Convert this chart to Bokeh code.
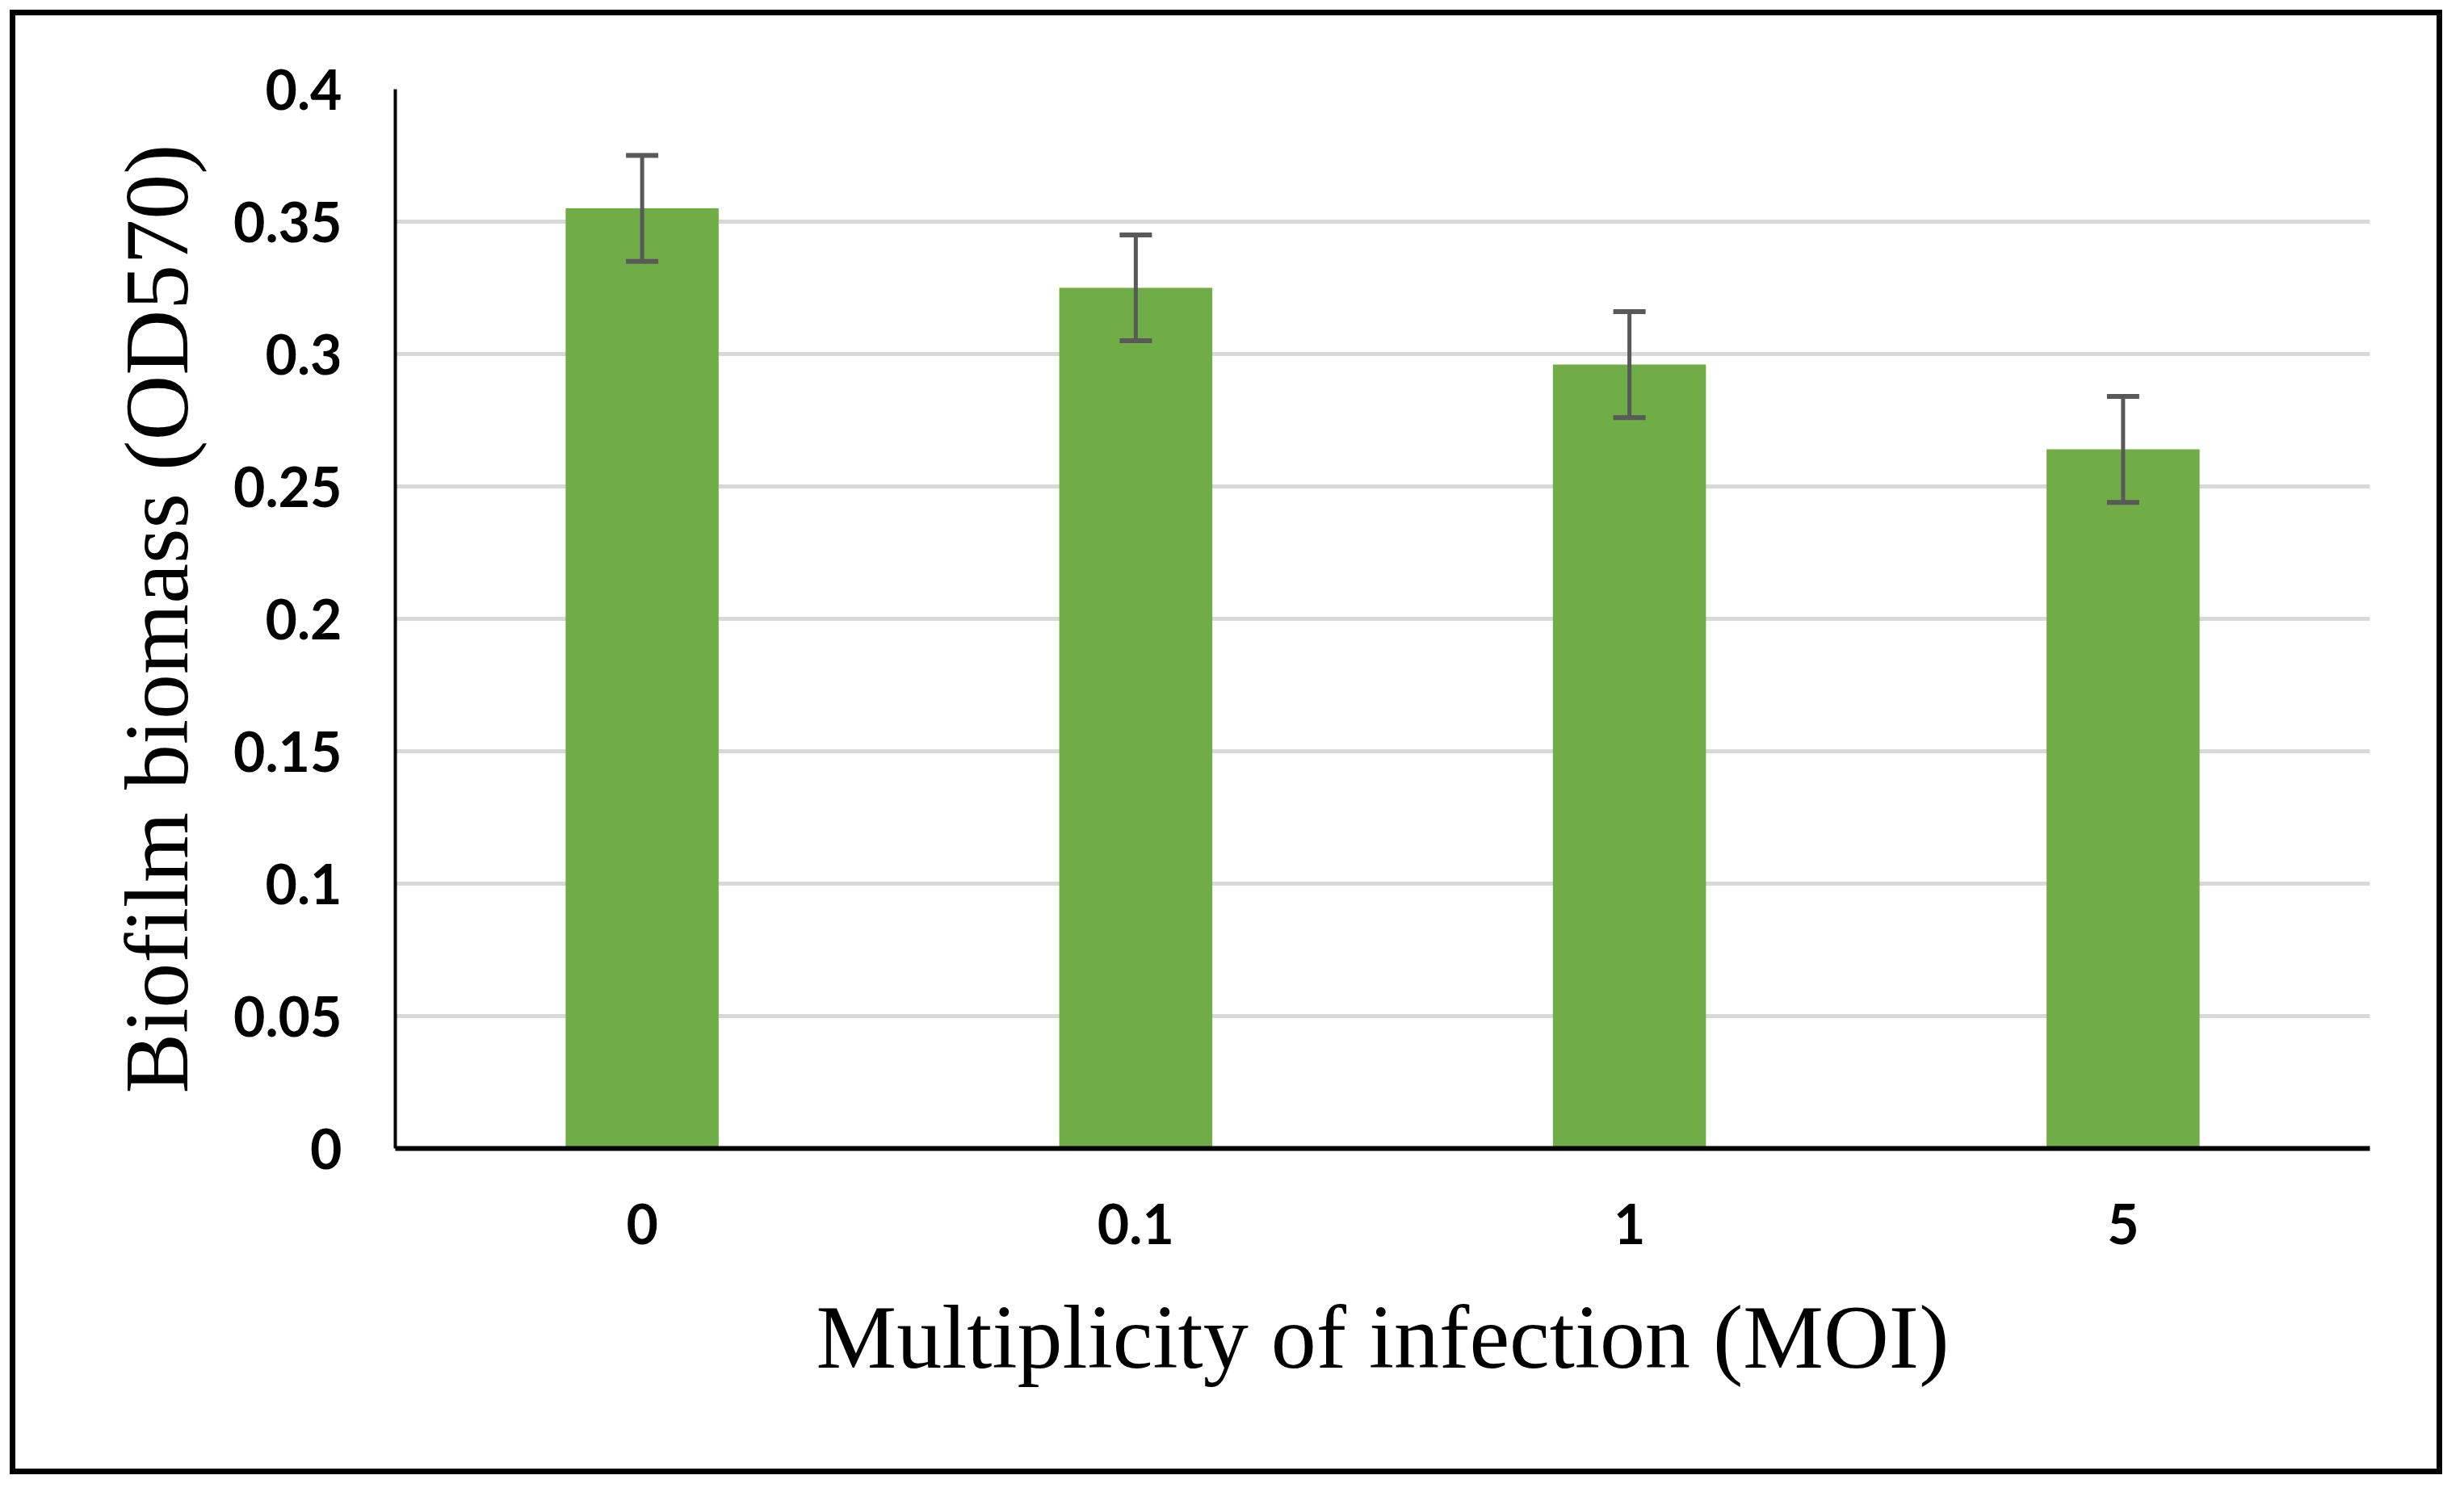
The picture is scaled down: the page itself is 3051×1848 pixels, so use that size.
import numpy as np
from bokeh.plotting import figure
from bokeh.models import ColumnDataSource, Whisker, TeeHead, FixedTicker, CustomJSTickFormatter
from bokeh.embed import file_html
from bokeh.resources import INLINE

# data
moi = ["0", "0.1", "1", "5"]
biomass = [0.355, 0.325, 0.296, 0.264]
err = [0.02, 0.02, 0.02, 0.02]
y_ticks = [0, 0.05, 0.1, 0.15, 0.2, 0.25, 0.3, 0.35, 0.4]

TICK_FONT = "Lato"
TITLE_FONT = "Liberation Serif"

src = ColumnDataSource(data={
    "moi": moi,
    "biomass": biomass,
    "upper": [b + e for b, e in zip(biomass, err)],
    "lower": [b - e for b, e in zip(biomass, err)],
})

p = figure(x_range=moi, y_range=(0, 0.4), width=3012, height=1814,
           output_backend="svg", toolbar_location=None, tools="",
           min_border_left=470, min_border_right=97,
           min_border_top=91, min_border_bottom=411)
p.styles = {"margin": "12px", "border": "7px solid black"}
p.outline_line_color = None
p.x_range.range_padding = 0

p.vbar(x="moi", top="biomass", width=0.31, source=src,
       fill_color="#70ad47", line_color=None)

wh = Whisker(base="moi", upper="upper", lower="lower", source=src,
             line_color="#595959", line_width=5, level="annotation",
             upper_head=TeeHead(size=40, line_color="#595959", line_width=6),
             lower_head=TeeHead(size=40, line_color="#595959", line_width=6))
p.add_layout(wh)

# grid
p.xgrid.grid_line_color = None
p.ygrid.grid_line_color = "#d9d9d9"
p.ygrid.grid_line_width = 5
p.yaxis.ticker = FixedTicker(ticks=y_ticks)
p.yaxis.formatter = CustomJSTickFormatter(code="return tick.toFixed(2).replace(/\\.?0+$/, '')")

for ax in (p.xaxis, p.yaxis):
    ax.major_tick_line_color = None
    ax.minor_tick_line_color = None
    ax.major_label_text_font = TICK_FONT
    ax.major_label_text_font_style = "bold"
    ax.major_label_text_font_size = "68px"
    ax.major_label_text_color = "black"
    ax.axis_label_text_font = TITLE_FONT
    ax.axis_label_text_font_style = "normal"
    ax.axis_label_text_font_size = "112px"
    ax.axis_label_text_color = "black"
    ax.axis_line_color = "black"

p.xaxis.axis_line_width = 6
p.yaxis.axis_line_width = 4
p.xaxis.major_label_standoff = 62
p.yaxis.major_label_standoff = 60
p.xaxis.axis_label_standoff = 50
p.yaxis.axis_label_standoff = 30
p.xaxis.axis_label = "Multiplicity of infection (MOI)"
p.yaxis.axis_label = "Biofilm biomass (OD570)"

open("out.html", "w").write(file_html(p, INLINE))
